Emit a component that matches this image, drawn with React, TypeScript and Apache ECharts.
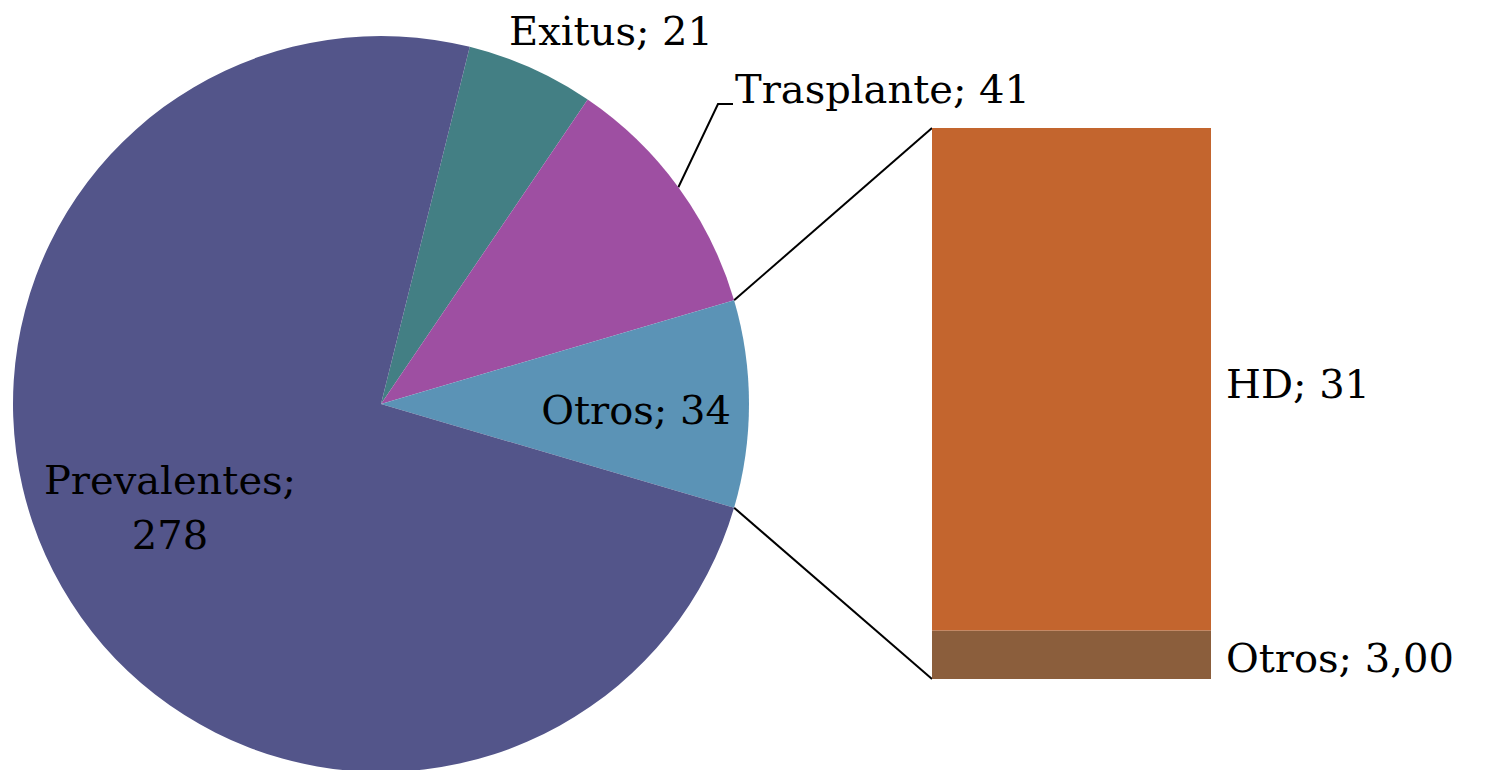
import React, { useEffect, useRef } from "react";
import * as echarts from "echarts";

// ---- data ----
const pieCategories = ["Prevalentes", "Exitus", "Trasplante", "Otros"];
const pieValues = [278, 21, 41, 34];
const pieColors = ["#53558A", "#437F84", "#9E4FA2", "#5B93B6"];

const barCategories = ["HD", "Otros"];
const barValues = [31, 3];
const barColors = ["#C3652E", "#8B5E3C"];

// ---- geometry (styles) ----
const W = 1485;
const H = 770;
const CX = 381;
const CY = 404;
const R = 368;
const BAR_LEFT = 932;
const BAR_TOP = 128;
const BAR_W = 279;
const BAR_H = 551;
const FONT = "'DejaVu Serif', Georgia, serif";
const FS = 40;

export default function App() {
  const ref = useRef<HTMLDivElement>(null);

  useEffect(() => {
    if (!ref.current) return;
    const chart = echarts.init(ref.current, undefined, { renderer: "svg" });

    const total = pieValues.reduce((a, b) => a + b, 0);
    const idx = (n: string) => pieCategories.indexOf(n);
    const vOtros = pieValues[idx("Otros")];
    const vTras = pieValues[idx("Trasplante")];
    const vExit = pieValues[idx("Exitus")];
    const half = (vOtros / total) * 180;
    const startAngle = half + (vTras / total) * 360 + (vExit / total) * 360;

    // order: Exitus, Trasplante, Otros, Prevalentes (clockwise)
    const order = ["Exitus", "Trasplante", "Otros", "Prevalentes"];
    const labelPos: Record<string, any> = {
      Exitus: { x: 509, y: 31, align: "left" },
      Trasplante: { x: 735, y: 89, align: "left" },
      Otros: { x: 636, y: 410, align: "center" },
      Prevalentes: { x: 170, y: 507, align: "center" },
    };

    const trasMid = ((half + (vTras / total) * 180) * Math.PI) / 180;
    const trasEdge = [CX + R * Math.cos(trasMid), CY - R * Math.sin(trasMid)];

    const pieData = order.map((name) => {
      const i = idx(name);
      return {
        name,
        value: pieValues[i],
        itemStyle: { color: pieColors[i] },
        label: {
          formatter: name === "Prevalentes" ? "{b};\n{c}" : "{b}; {c}",
          position: name === "Prevalentes" || name === "Otros" ? "inside" : "outside",
        },
        labelLine: {
          show: name === "Trasplante",
          lineStyle: { color: "#000", width: 2 },
        },
      };
    });

    const halfRad = (half * Math.PI) / 180;
    const edgeTop = [CX + R * Math.cos(halfRad), CY - R * Math.sin(halfRad)];
    const edgeBot = [CX + R * Math.cos(halfRad), CY + R * Math.sin(halfRad)];

    const barLabel = (p: any) => {
      const v = p.value as number;
      const txt = p.seriesName === "Otros" ? v.toFixed(2).replace(".", ",") : String(v);
      return `${p.seriesName}; ${txt}`;
    };

    const option: any = {
      animation: false,
      backgroundColor: "#ffffff",
      textStyle: { fontFamily: FONT },
      grid: { left: BAR_LEFT, top: BAR_TOP, width: BAR_W, height: BAR_H },
      xAxis: { type: "category", data: ["Otros"], show: false },
      yAxis: { type: "value", min: 0, max: barValues.reduce((a, b) => a + b, 0), show: false },
      series: [
        {
          type: "pie",
          center: [CX, CY],
          radius: [0, R],
          startAngle,
          clockwise: true,
          avoidLabelOverlap: false,
          itemStyle: { borderWidth: 0 },
          label: {
            color: "#000",
            fontFamily: FONT,
            fontSize: FS,
            lineHeight: 55,
          },
          labelLine: {
            lineStyle: { color: "#000", width: 2 },
          },
          labelLayout: (params: any) => {
            const name = order[params.dataIndex];
            const lp = labelPos[name];
            const res: any = { x: lp.x, y: lp.y, align: lp.align, verticalAlign: "middle" };
            if (name === "Trasplante") {
              res.labelLinePoints = [trasEdge, [718, 104], [733, 104]];
            }
            return res;
          },
          data: pieData,
        },
        ...[1, 0].map((i) => ({
          type: "bar",
          name: barCategories[i],
          stack: "total",
          barWidth: "100%",
          data: [barValues[i]],
          itemStyle: { color: barColors[i] },
          label: {
            show: true,
            position: "right",
            distance: 15,
            offset: [0, i === 0 ? 5 : 3],
            color: "#000",
            fontFamily: FONT,
            fontSize: FS,
            formatter: barLabel,
          },
        })),
      ],
      graphic: [
        {
          type: "line",
          shape: { x1: edgeTop[0], y1: edgeTop[1], x2: BAR_LEFT, y2: BAR_TOP },
          style: { stroke: "#000", lineWidth: 2 },
        },
        {
          type: "line",
          shape: { x1: edgeBot[0], y1: edgeBot[1], x2: BAR_LEFT, y2: BAR_TOP + BAR_H },
          style: { stroke: "#000", lineWidth: 2 },
        },
      ],
    };

    chart.setOption(option);
    return () => chart.dispose();
  }, []);

  return (
    <div
      ref={ref}
      style={{ position: "fixed", left: 0, top: 0, width: W, height: H }}
    />
  );
}
